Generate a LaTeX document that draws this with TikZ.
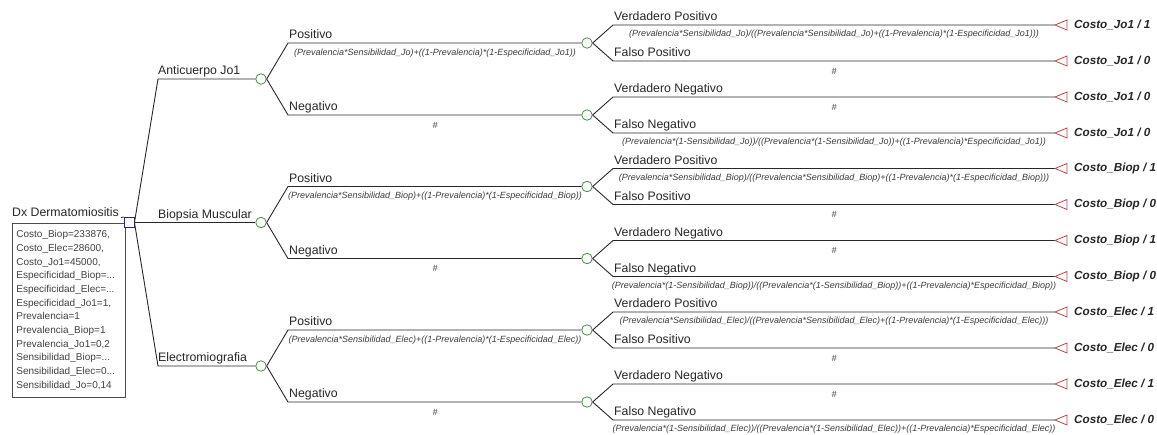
\documentclass[tikz,border=0pt]{standalone}
\usepackage{fontspec}
\setmainfont{Liberation Sans}
\definecolor{decblue}{RGB}{40,40,130}
\definecolor{chgreen}{RGB}{70,140,70}
\definecolor{termred}{RGB}{190,70,70}
\definecolor{linegray}{RGB}{40,40,40}
\definecolor{txtgray}{RGB}{60,60,60}
\tikzset{
 tree/.style={draw=linegray, line width=0.9pt},
 decnode/.style={draw=decblue, fill=white, line width=0.9pt, minimum size=10pt, inner sep=0pt, rectangle},
 chnode/.style={draw=chgreen, fill=white, circle, line width=0.8pt, minimum size=10.5pt, inner sep=0pt},
 termtri/.style={draw=termred, line width=0.8pt, fill=white},
 brlabel/.style={anchor=base west, inner sep=0pt, font=\fontsize{12.3}{14}\selectfont, text=black!85},
 problabel/.style={inner sep=0pt, font=\fontsize{9}{10}\selectfont\itshape, text=txtgray},
 payoff/.style={anchor=west, inner sep=0pt, font=\fontsize{11.7}{13}\selectfont\bfseries\itshape, text=black!85},
 infobox/.style={draw=black!70, line width=0.8pt, anchor=north west, minimum width=113pt, minimum height=174pt, inner sep=4pt, align=left, text width=105pt, font=\fontsize{10}{13.7}\selectfont, text=black!75},
}
\begin{document}
\begin{tikzpicture}[x=1pt,y=-1pt]
\useasboundingbox (0,0) rectangle (1157,434);
\node[infobox] (info) at (12,223) {Costo\_Biop=233876,\\Costo\_Elec=28600,\\Costo\_Jo1=45000,\\Especificidad\_Biop=...\\Especificidad\_Elec=...\\Especificidad\_Jo1=1,\\Prevalencia=1\\Prevalencia\_Biop=1\\Prevalencia\_Jo1=0,2\\Sensibilidad\_Biop=...\\Sensibilidad\_Elec=0...\\Sensibilidad\_Jo=0,14};
\node[brlabel] (rootlbl) at (12,216) {Dx Dermatomiositis};
\node[decnode] (root) at (129,222.5) {};
\coordinate (rootin) at (121,217.5);
\draw[tree] (rootin) -- (root.north west);
\foreach \g/\cy/\tname/\sv/\es/\vn in {a/79/Anticuerpo Jo1/Jo/Jo1/0, b/222.5/Biopsia Muscular/Biop/Biop/1, c/366/Electromiografia/Elec/Elec/1}{
  \node[chnode] (c\g) at (261,\cy) {};
  \coordinate (k\g) at (158,\cy);
  \draw[tree] (root.east) -- (k\g) -- (c\g.west);
  \node[brlabel] (l\g) at (158,\cy-4.5) {\tname};
  \node[chnode] (c\g P) at (587,\cy-36) {};
  \node[chnode] (c\g N) at (587,\cy+36) {};
  \coordinate (k\g P) at (288,\cy-36);
  \coordinate (k\g N) at (288,\cy+36);
  \draw[tree] (c\g.east) -- (k\g P) -- (c\g P.west);
  \draw[tree] (c\g.east) -- (k\g N) -- (c\g N.west);
  \node[brlabel] (l\g P) at (289,\cy-36-4.5) {Positivo};
  \node[brlabel] (l\g N) at (289,\cy+36-4.5) {Negativo};
  \node[problabel] (q\g P) at (435,\cy-36+10) {(Prevalencia*Sensibilidad\_\sv)+((1-Prevalencia)*(1-Especificidad\_\es))};
  \node[problabel] (q\g N) at (435,\cy+36+10) {\#};
  \foreach \ti/\pp/\dy/\tlab/\pv in {1/P/-54/Verdadero Positivo/1, 2/P/-18/Falso Positivo/0, 3/N/18/Verdadero Negativo/\vn, 4/N/54/Falso Negativo/0}{
    \coordinate (k\g\ti) at (613,\cy+\dy);
    \coordinate (t\g\ti) at (1055,\cy+\dy);
    \draw[tree] (c\g\pp.east) -- (k\g\ti) -- (t\g\ti);
    \draw[termtri] (t\g\ti) -- ++(12,-5) -- ++(0,10) -- cycle;
    \node[brlabel] (l\g\ti) at (614,\cy+\dy-4.5) {\tlab};
    \node[payoff] (p\g\ti) at (1074,\cy+\dy) {Costo\_\es{} / \pv};
  }
  \node[problabel] (q\g1) at (834,\cy-54+9.5) {(Prevalencia*Sensibilidad\_\sv)/((Prevalencia*Sensibilidad\_\sv)+((1-Prevalencia)*(1-Especificidad\_\es)))};
  \node[problabel] (q\g2) at (834,\cy-18+10) {\#};
  \node[problabel] (q\g3) at (834,\cy+18+10) {\#};
  \node[problabel] (q\g4) at (834,\cy+54+9.5) {(Prevalencia*(1-Sensibilidad\_\sv))/((Prevalencia*(1-Sensibilidad\_\sv))+((1-Prevalencia)*Especificidad\_\es))};
}
\end{tikzpicture}
\end{document}
